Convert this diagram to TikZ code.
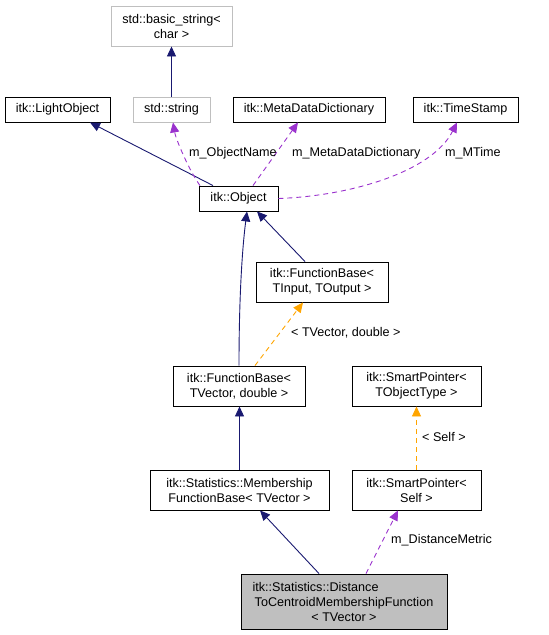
\documentclass[tikz,border=0pt]{standalone}
\usepackage{fontspec}
\setmainfont{Liberation Sans}
\usetikzlibrary{arrows.meta}
\definecolor{navy}{HTML}{191970}
\definecolor{orchid}{HTML}{9A32CD}
\definecolor{orng}{HTML}{FFA500}
\definecolor{lgray}{HTML}{BFBFBF}
\begin{document}
\begin{tikzpicture}[x=1pt,y=-1pt,
  font=\fontsize{12.6}{15}\selectfont,
  box/.style={draw=black,line width=0.9pt,inner sep=0pt,align=center,minimum width=#1},
  gbox/.style={box=#1,draw=lgray},
  inh/.style={navy,line width=0.9pt,-{Triangle[length=10pt,width=9pt]}},
  usage/.style={orchid,line width=0.9pt,dash pattern=on 5pt off 4pt,-{Triangle[length=10pt,width=9pt]}},
  tmpl/.style={orng,line width=0.9pt,dash pattern=on 5pt off 4pt,-{Triangle[length=10pt,width=9pt]}},
  lbl/.style={anchor=west,inner sep=0pt}]
\useasboundingbox (0,0) rectangle (549,635);
% nodes
\node[gbox=121pt,minimum height=40pt] (bs) at (171.5,26) {std::basic\_string<\\char >};
\node[box=105pt,minimum height=25pt] (lo) at (57.5,109.5) {itk::LightObject};
\node[gbox=77pt,minimum height=25pt] (ss) at (171.5,109.5) {std::string};
\node[box=152pt,minimum height=25pt] (md) at (309,109.5) {itk::MetaDataDictionary};
\node[box=105pt,minimum height=25pt] (ts) at (465.5,109.5) {itk::TimeStamp};
\node[box=79pt,minimum height=25pt] (ob) at (238.5,198.5) {itk::Object};
\node[box=132pt,minimum height=40pt] (fbi) at (322,282) {itk::FunctionBase<\\TInput, TOutput >};
\node[box=132pt,minimum height=40pt] (fbv) at (239,386) {itk::FunctionBase<\\TVector, double >};
\node[box=129pt,minimum height=40pt] (spt) at (416.5,386) {itk::SmartPointer<\\TObjectType >};
\node[box=179pt,minimum height=40pt] (mfb) at (239.5,490) {itk::Statistics::Membership\\FunctionBase< TVector >};
\node[box=129pt,minimum height=40pt] (sps) at (416.5,490) {itk::SmartPointer<\\Self >};
\node[box=206pt,minimum height=55pt,fill=lgray] (dist) at (344,601.5)
  {\makebox[183pt][l]{itk::Statistics::Distance}\\ToCentroidMembershipFunction\\< TVector >};
% edges
\draw[inh] (ss.north) -- (bs.south);
\draw[inh] ([xshift=-25.5pt]ob.north) -- ([xshift=32.5pt]lo.south);
\draw[usage] ([xshift=-38.5pt]ob.north) .. controls (190,172) and (176,140) .. ([xshift=1.5pt]ss.south);
\draw[usage] ([xshift=14.5pt]ob.north) -- ([xshift=-11pt]md.south);
\draw[usage] (ob.east) .. controls (350,196) and (432,172) .. ([xshift=-8.5pt]ts.south);
\draw[inh] ([xshift=-17pt]fbi.north) -- ([xshift=18.5pt]ob.south);
\draw[inh] (fbv.north) .. controls (239,300) and (242,250) .. ([xshift=8.5pt]ob.south);
\draw[tmpl] ([xshift=16pt]fbv.north) -- ([xshift=-19pt]fbi.south);
\draw[inh] (mfb.north) -- (mfb.north |- fbv.south);
\draw[tmpl] (sps.north) -- (spt.south);
\draw[inh] ([xshift=-25pt]dist.north) -- ([xshift=20.5pt]mfb.south);
\draw[usage] ([xshift=22pt]dist.north) -- ([xshift=-18.5pt]sps.south);
% labels
\node[lbl] (l1) at (189,153) {m\_ObjectName};
\node[lbl] (l2) at (292,153) {m\_MetaDataDictionary};
\node[lbl] (l3) at (445,153) {m\_MTime};
\node[lbl] (l4) at (291,333) {< TVector, double >};
\node[lbl] (l5) at (422,437) {< Self >};
\node[lbl] (l6) at (391,540) {m\_DistanceMetric};
\end{tikzpicture}
\end{document}
